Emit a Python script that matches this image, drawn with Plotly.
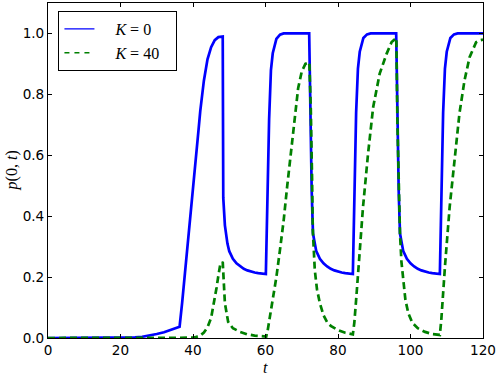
import plotly.graph_objects as go

# K = 0 series
t_k0 = [0, 10, 20, 22, 24, 26, 28, 30, 32, 34, 36.3, 37, 38, 39, 40, 41, 41.5, 42, 43, 44, 45, 46, 47, 48.2,
        48.35, 48.8, 49.1, 49.5, 50, 51, 52, 53, 54, 55, 56, 57, 58, 59, 60.1,
        61.0, 61.5, 62, 63, 64, 65, 72.05,
        72.4, 72.75, 73.1, 73.5, 74, 75, 76, 77, 78, 79, 80, 81, 82, 83, 84.1,
        85.0, 85.5, 86, 87, 88, 89, 96.05,
        96.4, 96.75, 97.1, 97.5, 98, 99, 100, 101, 102, 103, 104, 105, 106, 107, 108.1,
        109.0, 109.5, 110, 111, 112, 113, 120]
p_k0 = [0, 0, 0, 0.001, 0.002, 0.004, 0.008, 0.013, 0.019, 0.027, 0.037, 0.115, 0.235, 0.36, 0.49, 0.615, 0.68, 0.745, 0.845, 0.915, 0.955, 0.978, 0.988, 0.99,
        0.46, 0.37, 0.343, 0.31, 0.285, 0.26, 0.245, 0.235, 0.227, 0.222, 0.218, 0.215, 0.213, 0.211, 0.21,
        0.72, 0.88, 0.935, 0.982, 0.996, 1.0, 1.0,
        0.68, 0.48, 0.343, 0.31, 0.285, 0.26, 0.245, 0.235, 0.227, 0.222, 0.218, 0.215, 0.213, 0.211, 0.21,
        0.74, 0.885, 0.94, 0.985, 0.997, 1.0, 1.0,
        0.68, 0.48, 0.343, 0.31, 0.285, 0.26, 0.245, 0.235, 0.227, 0.222, 0.218, 0.215, 0.213, 0.211, 0.21,
        0.74, 0.885, 0.94, 0.985, 0.997, 1.0, 1.0]

# K = 40 series
t_k40 = [0, 20, 38, 40, 41, 42, 43, 44, 45, 46, 46.5, 47, 47.5, 48.2, 48.8, 49.7, 51, 53, 55, 57, 59, 60.2,
         60.6, 61.2, 62, 63, 64, 65, 66, 67, 68, 69, 70, 71, 72.1,
         72.5, 72.85, 73.05, 73.6, 74.2, 75, 76, 77, 78, 80, 82, 84.1,
         84.5, 85.0, 85.9, 86.9, 88.3, 89.7, 91.5, 93.4, 94.8, 95.7, 96.1,
         96.4, 96.8, 97.1, 97.5, 98, 98.6, 99.4, 100.5, 102, 104, 106, 108.1,
         108.5, 109, 109.5, 110.8, 112.2, 113.5, 114.9, 116.3, 118.1, 119, 120]
p_k40 = [0, 0, 0, 0.001, 0.004, 0.008, 0.018, 0.035, 0.066, 0.125, 0.165, 0.205, 0.24, 0.25, 0.114, 0.053, 0.032, 0.02, 0.012, 0.008, 0.005, 0.005,
         0.025, 0.068, 0.12, 0.2, 0.29, 0.385, 0.5, 0.61, 0.72, 0.82, 0.875, 0.9, 0.905,
         0.75, 0.52, 0.354, 0.223, 0.16, 0.114, 0.075, 0.052, 0.04, 0.026, 0.017, 0.012,
         0.05, 0.125, 0.278, 0.43, 0.606, 0.758, 0.868, 0.933, 0.972, 0.983, 0.985,
         0.70, 0.47, 0.343, 0.25, 0.18, 0.125, 0.081, 0.05, 0.032, 0.02, 0.013, 0.01,
         0.06, 0.15, 0.234, 0.43, 0.594, 0.737, 0.846, 0.922, 0.971, 0.977, 0.98]

series_names = ["<i>K</i> = 0", "<i>K</i> = 40"]
x_ticks = [0, 20, 40, 60, 80, 100, 120]
y_ticks = [0.0, 0.2, 0.4, 0.6, 0.8, 1.0]

BLUE = "#0000ff"
GREEN = "#008000"
NB = "\u00a0"

fig = go.Figure()
fig.add_trace(go.Scatter(x=t_k0, y=p_k0, mode="lines", showlegend=False,
                         line=dict(color=BLUE, width=2.7)))
fig.add_trace(go.Scatter(x=t_k40, y=p_k40, mode="lines", showlegend=False,
                         line=dict(color=GREEN, width=2.7, dash="7px,4px")))
# legend handles (thin lines as in reference)
fig.add_trace(go.Scatter(x=[None], y=[None], mode="lines", name=NB * 4 + series_names[0] + NB * 3,
                         line=dict(color=BLUE, width=1.2)))
fig.add_trace(go.Scatter(x=[None], y=[None], mode="lines", name=NB * 4 + series_names[1] + NB * 3,
                         line=dict(color=GREEN, width=1.5, dash="5px,5px")))

axis_common = dict(showline=True, linecolor="black", linewidth=1, mirror="ticks",
                   ticks="inside", ticklen=4, tickwidth=1, tickcolor="black",
                   showgrid=False, zeroline=False,
                   tickfont=dict(family="DejaVu Sans", size=13.6, color="black"))

fig.update_xaxes(range=[0, 120], tickvals=x_ticks, ticktext=[str(v) for v in x_ticks], **axis_common)
fig.update_yaxes(range=[0, 1.1], tickvals=y_ticks, ticktext=[f"{v:.1f}" for v in y_ticks], **axis_common)

fig.update_layout(
    width=498, height=375,
    margin=dict(l=48, r=15, t=3, b=37),
    paper_bgcolor="white", plot_bgcolor="white",
    showlegend=True,
    legend=dict(x=0.024, y=0.976, xanchor="left", yanchor="top",
                bordercolor="black", borderwidth=1, bgcolor="white",
                font=dict(family="Liberation Serif", size=16, color="black"),
                traceorder="normal"),
    annotations=[
        dict(text="<i>p</i>(0, <i>t</i>)", xref="paper", yref="paper", x=-0.083, y=0.5,
             xanchor="center", yanchor="middle", textangle=-90, showarrow=False,
             font=dict(family="Liberation Serif", size=16, color="black")),
        dict(text="<i>t</i>", xref="paper", yref="paper", x=0.5, y=-0.088,
             xanchor="center", yanchor="middle", showarrow=False,
             font=dict(family="Liberation Serif", size=16, color="black")),
    ],
)

fig.write_html("out.html", config={"displayModeBar": False},
               post_script="document.body.style.margin='0px';")
